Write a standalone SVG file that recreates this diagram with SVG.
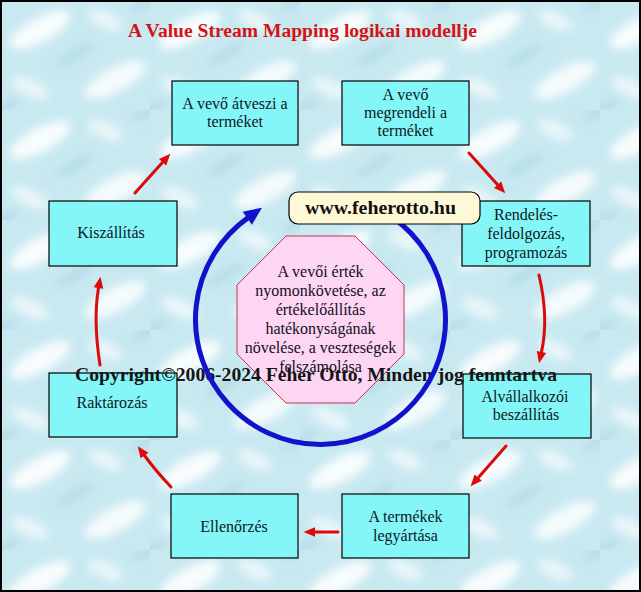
<svg xmlns="http://www.w3.org/2000/svg" width="641" height="592" viewBox="0 0 641 592">
  <style>
    .box { fill: #84f6f8; stroke: #000000; stroke-width: 1.2; }
    .lbl { font-family: "Liberation Serif", "Times New Roman", serif; font-size: 16px; fill: #0c1824; text-anchor: middle; }
    .oct { font-family: "Liberation Serif", "Times New Roman", serif; font-size: 16px; fill: #140c24; text-anchor: middle; }
    .red { fill: none; stroke: #dc0a0a; stroke-width: 3; stroke-linecap: round; }
  </style>
  <defs>
    <filter id="soft" x="-50%" y="-50%" width="200%" height="200%">
      <feGaussianBlur stdDeviation="4"/>
    </filter>
    <pattern id="bg" x="0" y="0" width="150" height="110" patternUnits="userSpaceOnUse">
      <rect width="150" height="110" fill="#c9e9f1"/>
      <g filter="url(#soft)">
        <ellipse cx="40" cy="30" rx="34" ry="12" fill="#ffffff" opacity="0.85" transform="rotate(-28 40 30)"/>
        <ellipse cx="115" cy="80" rx="34" ry="12" fill="#ffffff" opacity="0.8" transform="rotate(-28 115 80)"/>
        <ellipse cx="105" cy="20" rx="18" ry="8" fill="#ffffff" opacity="0.6" transform="rotate(25 105 20)"/>
        <ellipse cx="30" cy="88" rx="20" ry="8" fill="#ffffff" opacity="0.6" transform="rotate(25 30 88)"/>
        <ellipse cx="75" cy="55" rx="22" ry="5" fill="#a3d2de" opacity="0.55" transform="rotate(-30 75 55)"/>
        <ellipse cx="0" cy="110" rx="22" ry="5" fill="#a3d2de" opacity="0.5" transform="rotate(-30 0 110)"/>
        <ellipse cx="150" cy="0" rx="22" ry="5" fill="#a3d2de" opacity="0.5" transform="rotate(-30 150 0)"/>
      </g>
    </pattern>
    <marker id="ahRed" markerUnits="userSpaceOnUse" markerWidth="14" markerHeight="12" refX="0" refY="0" orient="auto" overflow="visible">
      <path d="M0,-4.8 L11.5,0 L0,4.8 Z" fill="#dc0a0a"/>
    </marker>
    <marker id="ahBlue" markerUnits="userSpaceOnUse" markerWidth="20" markerHeight="20" refX="0" refY="0" orient="auto" overflow="visible">
      <path d="M-1,-8 L17,0 L-1,8 Z" fill="#1212cc"/>
    </marker>
  </defs>

  <rect x="0" y="0" width="641" height="592" fill="url(#bg)"/>
  <rect x="1" y="1" width="639" height="590" fill="none" stroke="#000000" stroke-width="2"/>

  <text id="title" x="302.5" y="37" font-family="'Liberation Serif', 'Times New Roman', serif" font-size="18" font-weight="bold" fill="#d41414" text-anchor="middle" textLength="349" lengthAdjust="spacingAndGlyphs">A Value Stream Mapping logikai modellje</text>

  <g id="center-octagon">
    <polygon points="286,236 355,236 404,285 404,354 355,403 286,403 237,354 237,285" fill="#fcd6f2" stroke="#c8304c" stroke-width="1"/>
    <text class="oct" x="320.5" y="277">A vevői érték</text>
    <text class="oct" x="320.5" y="296">nyomonkövetése, az</text>
    <text class="oct" x="320.5" y="315">értékelőállítás</text>
    <text class="oct" x="320.5" y="334">hatékonyságának</text>
    <text class="oct" x="320.5" y="353">növelése, a veszteségek</text>
    <text class="oct" x="320.5" y="372">felszámolása</text>
  </g>

  <g id="node-atveszi">
    <rect class="box" x="172" y="81" width="126" height="64"/>
    <text class="lbl" x="235" y="109">A vevő átveszi a</text>
    <text class="lbl" x="235" y="127">terméket</text>
  </g>
  <g id="node-megrendeli">
    <rect class="box" x="342" y="81" width="127" height="64"/>
    <text class="lbl" x="405.5" y="100">A vevő</text>
    <text class="lbl" x="405.5" y="118">megrendeli a</text>
    <text class="lbl" x="405.5" y="136">terméket</text>
  </g>
  <g id="node-rendeles">
    <rect class="box" x="462" y="201" width="128" height="65"/>
    <text class="lbl" x="526" y="220">Rendelés-</text>
    <text class="lbl" x="526" y="239">feldolgozás,</text>
    <text class="lbl" x="526" y="258">programozás</text>
  </g>
  <g id="node-alvallalkozoi">
    <rect class="box" x="463" y="374" width="128" height="64"/>
    <text class="lbl" x="525" y="402">Alvállalkozói</text>
    <text class="lbl" x="526" y="420">beszállítás</text>
  </g>
  <g id="node-termekek">
    <rect class="box" x="342" y="494" width="127" height="64"/>
    <text class="lbl" x="405.5" y="522">A termékek</text>
    <text class="lbl" x="405.5" y="541">legyártása</text>
  </g>
  <g id="node-ellenorzes">
    <rect class="box" x="171" y="494" width="127" height="64"/>
    <text class="lbl" x="234" y="532">Ellenőrzés</text>
  </g>
  <g id="node-raktarozas">
    <rect class="box" x="49" y="373" width="128" height="64"/>
    <text class="lbl" x="112" y="408">Raktározás</text>
  </g>
  <g id="node-kiszallitas">
    <rect class="box" x="49" y="201" width="128" height="65"/>
    <text class="lbl" x="111" y="238">Kiszállítás</text>
  </g>

  <text id="copyright" x="75" y="381" font-family="'Liberation Serif', 'Times New Roman', serif" font-size="19" font-weight="bold" fill="#141414" textLength="482" lengthAdjust="spacingAndGlyphs">Copyright©2006-2024 Feher Otto, Minden jog fenntartva</text>

  <g id="connectors">
    <path class="red" d="M135,193 L162.6,162.2" marker-end="url(#ahRed)"/>
    <path class="red" d="M469,153 L497.6,184.8" marker-end="url(#ahRed)"/>
    <path class="red" d="M539,275 Q549,318 541.5,352" marker-end="url(#ahRed)"/>
    <path class="red" d="M506,446 L478.2,477.7" marker-end="url(#ahRed)"/>
    <path class="red" d="M338,532 L315,532" stroke-width="3.6" marker-end="url(#ahRed)"/>
    <path class="red" d="M171,487 Q155,470 144.5,455.5" marker-end="url(#ahRed)"/>
    <path class="red" d="M100,365 Q93,320 98.5,288" marker-end="url(#ahRed)"/>
    <path d="M392.2,217.1 A125,125 0 1 1 248.1,217.6" fill="none" stroke="#1212cc" stroke-width="5" marker-end="url(#ahBlue)"/>
  </g>

  <g id="node-www">
    <rect x="289" y="192" width="191" height="32" rx="9" ry="9" fill="#fdf8d6" stroke="#000000" stroke-width="1.2"/>
    <text x="380.5" y="214" font-family="'Liberation Serif', 'Times New Roman', serif" font-size="18" font-weight="bold" fill="#101010" text-anchor="middle" textLength="151" lengthAdjust="spacingAndGlyphs">www.feherotto.hu</text>
  </g>
</svg>
